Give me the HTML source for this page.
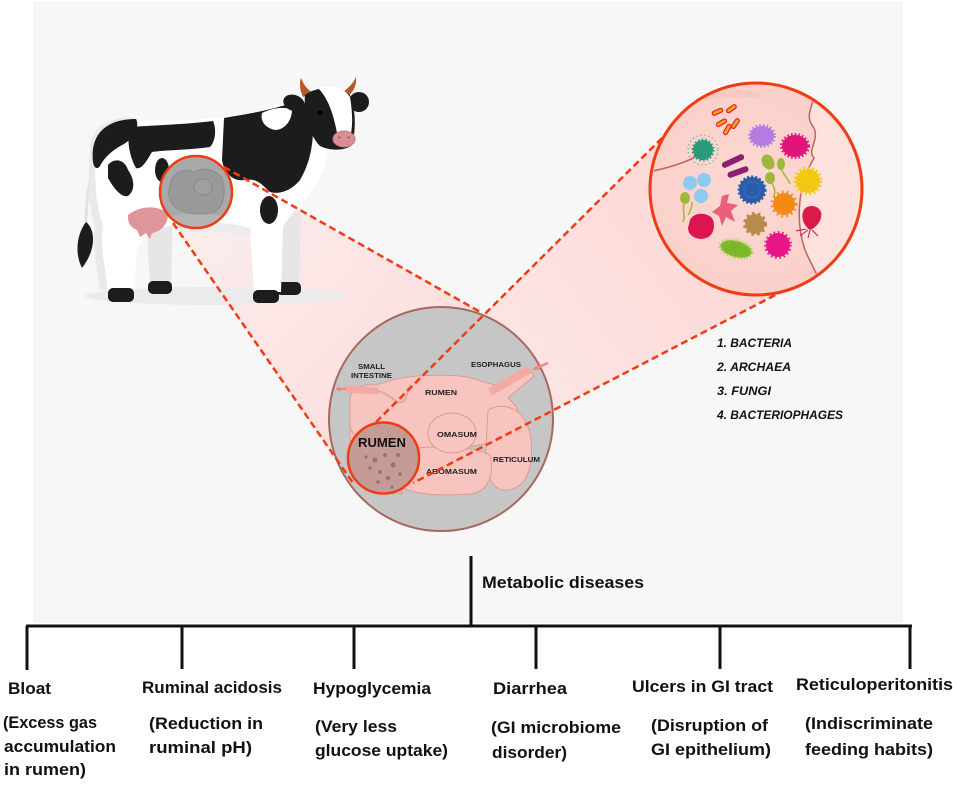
<!DOCTYPE html>
<html><head><meta charset="utf-8">
<style>
html,body{margin:0;padding:0;background:#fff;}
svg{display:block;}
text{font-family:"Liberation Sans",Arial,sans-serif;}
</style></head>
<body>
<svg width="957" height="785" viewBox="0 0 957 785" xmlns="http://www.w3.org/2000/svg">
<defs>
<linearGradient id="cowCone" x1="200" y1="190" x2="440" y2="420" gradientUnits="userSpaceOnUse">
<stop offset="0" stop-color="#fbeeee"/>
<stop offset="1" stop-color="#fcdcdc"/>
</linearGradient>
<linearGradient id="micCone" x1="740" y1="200" x2="390" y2="460" gradientUnits="userSpaceOnUse">
<stop offset="0" stop-color="#fdd8d6"/>
<stop offset="1" stop-color="#fcecec"/>
</linearGradient>
<radialGradient id="micFill" cx="0.45" cy="0.5" r="0.6">
<stop offset="0" stop-color="#fcd8d2"/>
<stop offset="1" stop-color="#fbcfc8"/>
</radialGradient>
<clipPath id="micClip"><circle cx="756" cy="189" r="104"/></clipPath>
<clipPath id="cowClip"><circle cx="196" cy="192" r="35"/></clipPath>
<clipPath id="rumClip"><circle cx="383.5" cy="458" r="34"/></clipPath>
</defs>

<!-- panel -->
<rect x="34" y="3" width="868" height="619" fill="#f7f7f7" stroke="#efefef" stroke-width="1"/>

<!-- cones -->
<polygon points="224,167 482,313 441,419 353,483 173,223" fill="url(#cowCone)"/>
<polygon points="662,138 785,290 413,483 367,431" fill="url(#micCone)"/>

<!-- cow shadow -->
<ellipse cx="215" cy="296" rx="130" ry="9" fill="#ebebeb"/>

<!-- cow far legs -->
<path d="M146,212 L173,212 L171,284 L150,284 Z" fill="#e6e6e6"/>
<rect x="148" y="281" width="24" height="13" rx="5" fill="#1c1c1c"/>
<path d="M272,212 L301,212 L299,284 L278,284 Z" fill="#e6e6e6"/>
<rect x="276" y="282" width="25" height="13" rx="5" fill="#1c1c1c"/>

<!-- tail -->
<path d="M97,155 C89,180 86,200 86,225" stroke="#e2e2e2" stroke-width="3" fill="none"/>
<path d="M86,222 C96,230 96,250 82,268 C75,255 76,235 86,222 Z" fill="#1c1c1c"/>

<!-- cow body -->
<path d="M90,150 C90,128 108,116 135,118 L110,290 L100,290 C96,262 92,242 95,226 C88,206 88,180 90,150 Z" fill="#e9e9e9"/>
<path d="M96,150 C96,128 112,118 135,120 C170,122 200,120 230,116 C260,112 285,104 300,96 L322,112 C332,130 331,150 323,170 C316,186 306,200 292,214 L283,226 L281,292 L254,292 L250,228 C230,222 200,222 180,224 L170,226 C150,230 142,236 137,252 L134,292 L108,292 C104,262 100,242 103,226 C96,206 94,180 96,150 Z" fill="#ffffff"/>
<path d="M180,224 C200,222 230,222 250,228 L252,236 C230,232 200,232 180,234 Z" fill="#ececec"/>
<!-- near hooves -->
<rect x="108" y="288" width="26" height="14" rx="5" fill="#1c1c1c"/>
<rect x="253" y="290" width="26" height="13" rx="5" fill="#1c1c1c"/>

<!-- udder -->
<path d="M128,215 C140,205 160,205 168,214 C168,225 160,232 152,233 L150,239 L146,233 L140,237 L137,230 C131,228 127,222 128,215 Z" fill="#e0959a"/>

<!-- spots -->
<path d="M93,162 C90,135 105,119 136,119 C140,126 134,138 124,144 C112,150 104,158 100,166 C97,170 94,168 93,162 Z" fill="#1c1c1c"/>
<path d="M130,127 C160,125 190,124 213,121 C217,130 215,142 210,147 C190,150 165,150 152,152 C147,160 142,170 136,168 C130,158 126,140 130,127 Z" fill="#1c1c1c"/>
<path d="M224,118 C245,114 262,112 282,106 C296,102 308,100 312,110 C315,135 312,160 300,180 C292,190 280,195 270,192 C262,185 258,178 245,180 C232,182 224,172 222,160 Z" fill="#1c1c1c"/>
<path d="M262,113 C272,108 285,106 292,110 C292,120 285,130 275,130 C265,128 260,121 262,113 Z" fill="#ffffff"/>
<path d="M108,165 C115,157 125,160 128,170 C134,178 136,190 128,196 C120,198 112,185 108,178 Z" fill="#1c1c1c"/>
<ellipse cx="162" cy="170" rx="7" ry="12" fill="#1c1c1c"/>
<ellipse cx="269" cy="210" rx="9" ry="14" fill="#1c1c1c"/>

<!-- head -->
<path d="M303,97 C300,90 299,84 301,78 C304,85 307,90 314,93 Z" fill="#b5582a"/>
<path d="M342,93 C348,88 353,84 356,77 C357,86 353,92 347,97 Z" fill="#b5582a"/>
<ellipse cx="294" cy="103" rx="11" ry="8" transform="rotate(20 294 103)" fill="#1c1c1c"/>
<ellipse cx="359" cy="102" rx="10" ry="10" fill="#1c1c1c"/>
<path d="M305,95 C318,85 340,87 350,95 C356,110 356,130 352,145 C345,151 330,151 320,146 C310,136 303,115 305,95 Z" fill="#1c1c1c"/>
<path d="M318,88 C330,84 345,88 350,97 C353,115 353,130 349,140 L338,139 C335,120 330,100 318,88 Z" fill="#ffffff"/>
<circle cx="320" cy="113" r="2.5" fill="#000"/>
<ellipse cx="344" cy="139" rx="11" ry="8" fill="#d98e95" stroke="#c6767e" stroke-width="1"/>
<path d="M338,137 l3,1 M350,137 l-3,1" stroke="#9a4a50" stroke-width="1"/>

<!-- cow circle -->
<circle cx="196" cy="192" r="36" fill="#a9a9a9"/>
<g clip-path="url(#cowClip)">
<ellipse cx="196" cy="222" rx="40" ry="8" fill="#b4b4b4"/>
<path d="M170,185 C172,172 185,168 195,172 C205,166 215,170 222,178 C226,190 225,205 215,212 C200,216 182,214 174,206 C168,200 168,192 170,185 Z" fill="#999" stroke="#8c8c8c" stroke-width="1"/>
<ellipse cx="203" cy="187" rx="9" ry="8" fill="#a0a0a0" stroke="#888" stroke-width="1"/>
</g>
<circle cx="196" cy="192" r="36" fill="none" stroke="#f03c14" stroke-width="2.5"/>

<!-- big stomach circle -->
<circle cx="441" cy="419" r="112" fill="#c6c6c6" stroke="#a8685e" stroke-width="2"/>
<!-- stomach -->
<g stroke="#dd9a94" stroke-width="1">
<path d="M350,430 C350,462 355,486 375,492 L402,494 C396,470 390,450 380,440 Z" fill="#f8c4bf"/>
<path d="M350,400 C350,388 362,384 375,385 L383,383 C400,376 430,374 460,376 C480,378 490,387 500,384 L528,368 L534,376 L508,398 C520,408 522,420 518,430 L500,440 C470,450 420,450 390,448 C370,446 352,440 350,425 Z" fill="#f8c4bf"/>
<path d="M488,410 C505,400 528,410 531,440 C534,470 525,490 505,490 C490,490 485,470 486,450 Z" fill="#f8c4bf"/>
<path d="M405,450 C430,445 470,445 490,455 C495,475 488,492 470,494 C440,496 410,495 400,485 Z" fill="#f8c4bf"/>
<ellipse cx="452" cy="433" rx="24" ry="20" fill="#f8c4bf"/>
</g>
<path d="M345,389 L378,391" stroke="#f4aaa4" stroke-width="7"/>
<path d="M376,391 C390,392 395,405 402,402 C410,398 405,385 412,386" stroke="#e9a49e" stroke-width="2" fill="none"/>
<path d="M346,389 L336,389" stroke="#f08880" stroke-width="2"/>
<path d="M336,389 l4,-3 l0,6 z" fill="#f08880"/>
<path d="M490,392 L530,369" stroke="#f4aaa4" stroke-width="8"/>
<path d="M548,363 L534,369" stroke="#f08880" stroke-width="2.5"/>
<path d="M532,370 l6,-6 l2,6 z" fill="#f08880"/>

<!-- stomach labels -->
<g font-weight="bold" font-size="7" fill="#222">
<text x="358" y="369" textLength="27" lengthAdjust="spacingAndGlyphs">SMALL</text>
<text x="351" y="378" textLength="41" lengthAdjust="spacingAndGlyphs">INTESTINE</text>
<text x="425" y="395" textLength="32" lengthAdjust="spacingAndGlyphs">RUMEN</text>
<text x="471" y="367" textLength="50" lengthAdjust="spacingAndGlyphs">ESOPHAGUS</text>
<text x="437" y="437" textLength="40" lengthAdjust="spacingAndGlyphs">OMASUM</text>
<text x="493" y="462" textLength="47" lengthAdjust="spacingAndGlyphs">RETICULUM</text>
<text x="426" y="474" textLength="51" lengthAdjust="spacingAndGlyphs">ABOMASUM</text>
</g>

<!-- dashed lines -->
<g stroke="#f03c14" stroke-width="2.5" stroke-dasharray="7,4" fill="none">
<line x1="224" y1="167" x2="482" y2="313"/>
<line x1="173" y1="223" x2="353" y2="483"/>
<line x1="662" y1="138" x2="367" y2="431"/>
<line x1="785" y1="290" x2="413" y2="483"/>
</g>

<!-- rumen small circle -->
<circle cx="383.5" cy="458" r="35.5" fill="#c49b96"/>
<g clip-path="url(#rumClip)">
<path d="M348,470 C360,480 372,494 390,496 L350,496 Z" fill="#a9a9a9"/>
<g fill="#9a7470">
<circle cx="375" cy="460" r="2.5"/><circle cx="385" cy="455" r="2"/><circle cx="393" cy="465" r="2.5"/>
<circle cx="380" cy="472" r="2"/><circle cx="370" cy="468" r="1.8"/><circle cx="398" cy="455" r="2"/>
<circle cx="388" cy="478" r="2.2"/><circle cx="366" cy="457" r="1.6"/><circle cx="400" cy="474" r="1.8"/>
<circle cx="378" cy="482" r="1.8"/><circle cx="392" cy="487" r="1.6"/>
</g>
</g>
<circle cx="383.5" cy="458" r="35.5" fill="none" stroke="#f03c14" stroke-width="2.5"/>
<text x="358" y="447" font-size="13" font-weight="bold" fill="#111" textLength="48" lengthAdjust="spacingAndGlyphs">RUMEN</text>

<!-- microbe circle -->
<circle cx="756" cy="189" r="106" fill="url(#micFill)"/>
<g clip-path="url(#micClip)">
<path d="M812,80 C820,100 803,112 812,125 C822,138 806,150 814,158 C798,185 795,220 805,250 C810,262 818,275 828,300 L880,300 L880,80 Z" fill="#fde2dd"/>
<path d="M812,80 C820,100 803,112 812,125 C822,138 806,150 814,158 C798,185 795,220 805,250 C810,262 818,275 828,300" stroke="#b9675e" stroke-width="1.5" fill="none"/>
<path d="M648,172 C668,168 690,162 703,152" stroke="#b9675e" stroke-width="1.5" fill="none"/>
<path d="M650,120 C680,100 720,90 760,95" stroke="#f7c2bb" stroke-width="6" fill="none" opacity="0.6"/>
<!-- orange rods -->
<g fill="#f7a21e" stroke="#e8202a" stroke-width="1.2">
<rect x="712" y="110" width="11" height="4" rx="2" transform="rotate(-25 717 112)"/>
<rect x="726" y="107" width="11" height="4" rx="2" transform="rotate(-35 731 109)"/>
<rect x="716" y="121" width="11" height="4" rx="2" transform="rotate(-30 721 123)"/>
<rect x="730" y="122" width="11" height="4" rx="2" transform="rotate(-55 735 124)"/>
<rect x="722" y="128" width="11" height="4" rx="2" transform="rotate(-60 727 130)"/>
</g>
<!-- teal virus -->
<circle cx="703" cy="150" r="15" fill="none" stroke="#2a9a7a" stroke-width="1" stroke-dasharray="1,3"/>
<circle cx="703" cy="150" r="10" fill="#2a9a7a" stroke="#2a9a7a" stroke-width="3" stroke-dasharray="1.5,2"/>
<!-- purple blob -->
<ellipse cx="762" cy="136" rx="12" ry="10" fill="#b57be0" stroke="#b57be0" stroke-width="4" stroke-dasharray="1.5,2"/>
<!-- magenta -->
<ellipse cx="795" cy="146" rx="13" ry="11" fill="#e0157a" stroke="#e0157a" stroke-width="4" stroke-dasharray="1.5,2"/>
<!-- purple rods -->
<rect x="721" y="158" width="24" height="6" rx="3" fill="#8a1f6e" transform="rotate(-25 733 161)"/>
<rect x="727" y="169" width="22" height="6" rx="3" fill="#8a1f6e" transform="rotate(-20 738 172)"/>
<!-- green tadpoles -->
<ellipse cx="768" cy="162" rx="6" ry="8" fill="#a0b83a" transform="rotate(-30 768 162)"/>
<ellipse cx="781" cy="164" rx="4" ry="6" fill="#a0b83a"/>
<ellipse cx="770" cy="178" rx="5" ry="6" fill="#a0b83a"/>
<path d="M781,168 C784,176 788,178 790,184 M772,183 C774,188 776,190 774,196" stroke="#a0b83a" stroke-width="1.5" fill="none"/>
<!-- yellow spiky -->
<circle cx="808" cy="181" r="12" fill="#f2c811" stroke="#f2c811" stroke-width="5" stroke-dasharray="1.5,2.5"/>
<!-- light blue cluster -->
<g fill="#8ccaf0"><circle cx="690" cy="183" r="7"/><circle cx="704" cy="180" r="7"/><circle cx="701" cy="196" r="7"/></g>
<!-- blue virus -->
<circle cx="752" cy="190" r="13" fill="#2a5caa" stroke="#2a5caa" stroke-width="3" stroke-dasharray="2,2"/>
<circle cx="752" cy="190" r="8" fill="none" stroke="#5f8fd0" stroke-width="1" stroke-dasharray="1,2"/>
<!-- pink branched -->
<path d="M722,196 L729,194 L727,203 L738,205 L731,211 L735,222 L726,217 L722,226 L719,216 L712,212 L720,206 Z" fill="#e8607a"/>
<!-- orange spiky -->
<circle cx="784" cy="204" r="11" fill="#f28a13" stroke="#f28a13" stroke-width="5" stroke-dasharray="1.5,3"/>
<!-- green tadpoles left -->
<ellipse cx="685" cy="198" rx="5" ry="6" fill="#a0b83a"/>
<path d="M684,204 C682,212 686,216 683,222 M692,202 C692,208 690,212 688,215" stroke="#a0b83a" stroke-width="1.5" fill="none"/>
<!-- crimson blob -->
<path d="M690,220 C694,212 706,212 712,218 C716,224 714,236 706,238 C698,241 688,236 688,228 Z" fill="#dc1450"/>
<!-- brown spiky -->
<circle cx="755" cy="224" r="10" fill="#b98a4e" stroke="#b98a4e" stroke-width="4" stroke-dasharray="2.5,3"/>
<!-- red drop -->
<path d="M803,212 C805,204 818,204 821,212 C823,220 816,228 810,230 C804,226 801,218 803,212 Z" fill="#dc1a4a"/>
<path d="M808,230 l-8,6 M810,230 l-2,8 M812,230 l6,6 M806,229 l-10,2" stroke="#c0183f" stroke-width="1" fill="none"/>
<!-- green bacillus -->
<ellipse cx="736" cy="249" rx="16" ry="8" fill="#7ab82a" stroke="#9acd3a" stroke-width="4" stroke-dasharray="0.8,2" transform="rotate(15 736 249)"/>
<!-- pink virus -->
<circle cx="778" cy="245" r="12" fill="#e8148a" stroke="#e8148a" stroke-width="4" stroke-dasharray="1.5,2.5"/>
</g>
<circle cx="756" cy="189" r="106" fill="none" stroke="#f03c14" stroke-width="3"/>

<!-- microbe list -->
<g font-weight="bold" font-style="italic" font-size="11.5" fill="#111">
<text x="717" y="347" textLength="75" lengthAdjust="spacingAndGlyphs">1. BACTERIA</text>
<text x="717" y="371" textLength="74" lengthAdjust="spacingAndGlyphs">2. ARCHAEA</text>
<text x="717" y="395" textLength="54" lengthAdjust="spacingAndGlyphs">3. FUNGI</text>
<text x="717" y="419" textLength="126" lengthAdjust="spacingAndGlyphs">4. BACTERIOPHAGES</text>
</g>

<!-- tree -->
<g stroke="#111" stroke-width="3" fill="none">
<line x1="471" y1="556" x2="471" y2="627"/>
<line x1="26" y1="626" x2="912" y2="626"/>
<line x1="27" y1="626" x2="27" y2="670"/>
<line x1="182" y1="626" x2="182" y2="669"/>
<line x1="354" y1="626" x2="354" y2="669"/>
<line x1="536" y1="626" x2="536" y2="669"/>
<line x1="720" y1="626" x2="720" y2="669"/>
<line x1="910" y1="626" x2="910" y2="669"/>
</g>

<g font-weight="bold" font-size="16.5" fill="#111">
<text x="482" y="588" textLength="162" lengthAdjust="spacingAndGlyphs">Metabolic diseases</text>

<text x="8" y="694" textLength="43" lengthAdjust="spacingAndGlyphs">Bloat</text>
<text x="3" y="728" textLength="94" lengthAdjust="spacingAndGlyphs">(Excess gas</text>
<text x="4" y="752" textLength="112" lengthAdjust="spacingAndGlyphs">accumulation</text>
<text x="4" y="775" textLength="82" lengthAdjust="spacingAndGlyphs">in rumen)</text>

<text x="142" y="693" textLength="140" lengthAdjust="spacingAndGlyphs">Ruminal acidosis</text>
<text x="149" y="729" textLength="114" lengthAdjust="spacingAndGlyphs">(Reduction in</text>
<text x="149" y="753" textLength="103" lengthAdjust="spacingAndGlyphs">ruminal pH)</text>

<text x="313" y="694" textLength="118" lengthAdjust="spacingAndGlyphs">Hypoglycemia</text>
<text x="315" y="732" textLength="82" lengthAdjust="spacingAndGlyphs">(Very less</text>
<text x="315" y="756" textLength="133" lengthAdjust="spacingAndGlyphs">glucose uptake)</text>

<text x="493" y="694" textLength="74" lengthAdjust="spacingAndGlyphs">Diarrhea</text>
<text x="491" y="733" textLength="130" lengthAdjust="spacingAndGlyphs">(GI microbiome</text>
<text x="492" y="758" textLength="75" lengthAdjust="spacingAndGlyphs">disorder)</text>

<text x="632" y="692" textLength="141" lengthAdjust="spacingAndGlyphs">Ulcers in GI tract</text>
<text x="651" y="731" textLength="117" lengthAdjust="spacingAndGlyphs">(Disruption of</text>
<text x="651" y="755" textLength="120" lengthAdjust="spacingAndGlyphs">GI epithelium)</text>

<text x="796" y="690" textLength="157" lengthAdjust="spacingAndGlyphs">Reticuloperitonitis</text>
<text x="805" y="729" textLength="128" lengthAdjust="spacingAndGlyphs">(Indiscriminate</text>
<text x="805" y="755" textLength="128" lengthAdjust="spacingAndGlyphs">feeding habits)</text>
</g>
</svg>
</body></html>
